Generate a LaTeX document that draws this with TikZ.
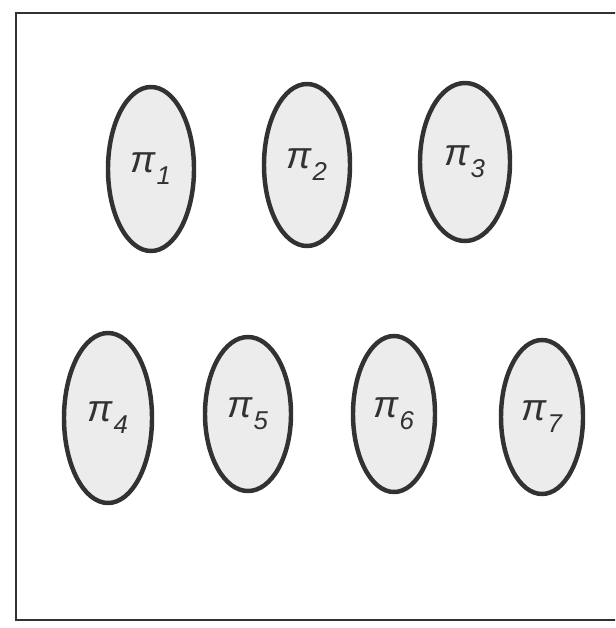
\documentclass[tikz,border=0pt]{standalone}
\usepackage{fontspec}
\setsansfont{Liberation Sans}
\usepackage{tikz}
\usetikzlibrary{shapes.geometric}
\usepackage{xcolor}
\definecolor{inkgray}{RGB}{50,50,50}
\definecolor{dotgray}{RGB}{236,236,236}

% pi with a large, dropped index
\newcommand{\pilab}[1]{π\kern0.5pt\raisebox{-0.32em}{\fontsize{22}{26}\selectfont #1}}

\tikzset{
  blob/.style={ellipse, draw=inkgray, fill=dotgray, line width=3.8pt, inner sep=0pt,
    text=inkgray, font=\fontsize{32}{38}\selectfont\sffamily\itshape},
}

\begin{document}
\begin{tikzpicture}[x=0.03cm, y=-0.03cm]
  \useasboundingbox (0,0) rectangle (615,628);
  \clip (0,0) rectangle (615,628);
  % Frame (right side runs off the page)
  \draw[inkgray, line width=1.8pt] (640,13) -- (16,13) -- (16,620) -- (640,620);
  % Upper row
  \node[blob, minimum width=2.58cm, minimum height=4.92cm] (p1) at (151,169) {\pilab{1}};
  \node[blob, minimum width=2.58cm, minimum height=4.86cm] (p2) at (307,165) {\pilab{2}};
  \node[blob, minimum width=2.70cm, minimum height=4.74cm] (p3) at (465,162) {\pilab{3}};
  % Lower row
  \node[blob, minimum width=2.64cm, minimum height=5.10cm] (p4) at (108,418) {\pilab{4}};
  \node[blob, minimum width=2.58cm, minimum height=4.62cm] (p5) at (248,414) {\pilab{5}};
  \node[blob, minimum width=2.46cm, minimum height=4.68cm] (p6) at (394,414) {\pilab{6}};
  \node[blob, minimum width=2.46cm, minimum height=4.62cm] (p7) at (542,417) {\pilab{7}};
\end{tikzpicture}
\end{document}
